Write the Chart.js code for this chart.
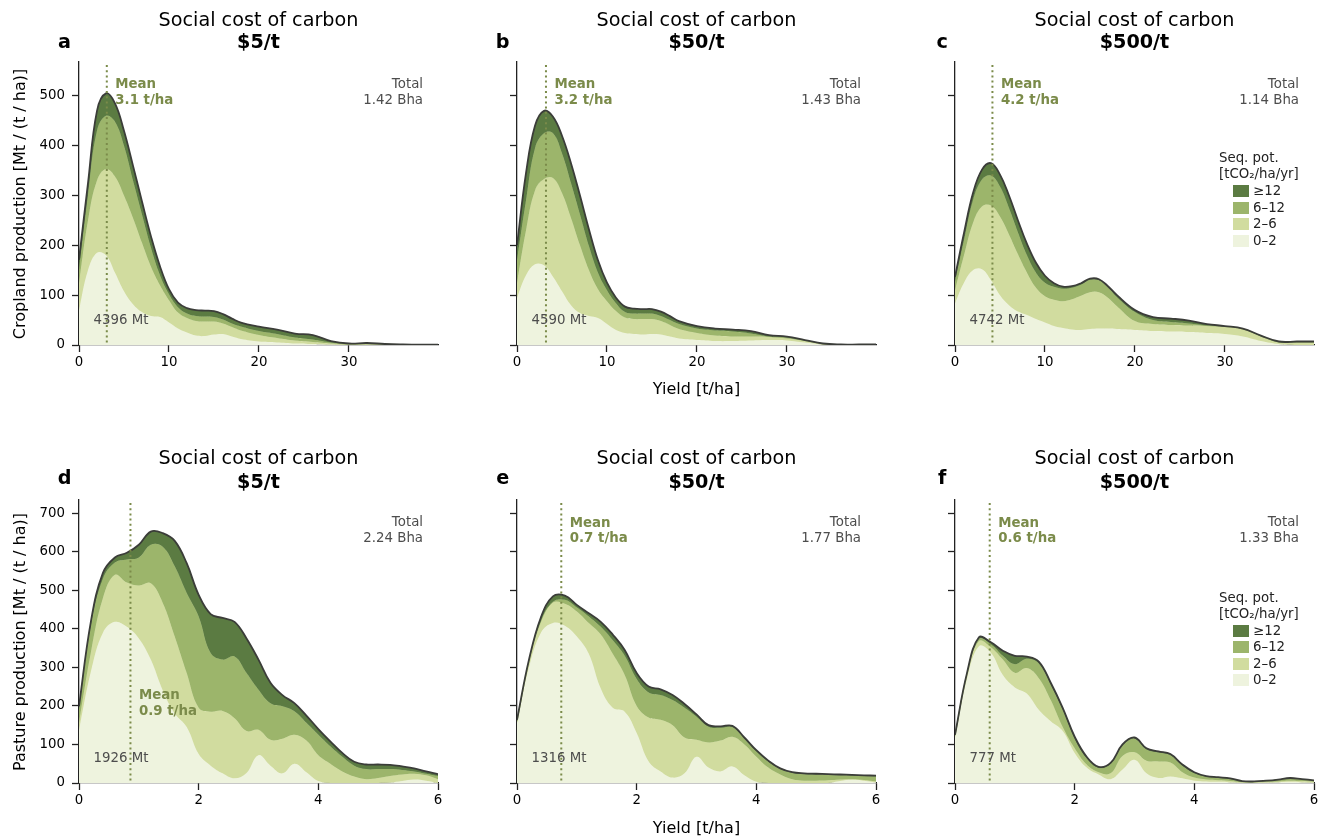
<!DOCTYPE html>
<html>
<head>
<meta charset="utf-8">
<script src="https://cdn.jsdelivr.net/npm/chart.js@4.4.1/dist/chart.umd.min.js"></script>
<style>
  html,body{margin:0;padding:0;background:#fff;}
  body{width:1325px;height:839px;overflow:hidden;position:relative;font-family:"DejaVu Sans",sans-serif;color:#000;}
  canvas{position:absolute;left:0;top:0;}
  .txt{position:absolute;white-space:nowrap;line-height:1;}
  .c{transform:translate(-50%,-50%);}
  .l{transform:translate(0,-50%);}
  .rot{transform:translate(-50%,-50%) rotate(-90deg);}
  .sw{position:absolute;width:16px;height:12px;}
</style>
</head>
<body>
<canvas id="pa" width="1325" height="839"></canvas>
<canvas id="pb" width="1325" height="839"></canvas>
<canvas id="pc" width="1325" height="839"></canvas>
<canvas id="pd" width="1325" height="839"></canvas>
<canvas id="pe" width="1325" height="839"></canvas>
<canvas id="pf" width="1325" height="839"></canvas>
<script>
// ---------------- DATA ----------------
// x grids (yield, t/ha)
const cropYield = [0,1,2,3,4,5,6,7,8,9,10,11,12,13,14,15,16,17,18,20,22,24,26,28,30,32,34,36,38,40];
const pastureYield = [0,0.2,0.4,0.6,0.8,1.0,1.2,1.4,1.6,1.8,2.0,2.2,2.4,2.6,2.8,3.0,3.2,3.4,3.6,3.8,4.0,4.2,4.4,4.6,4.8,5.0,5.2,5.4,5.6,5.8,6.0];

// Cumulative upper boundaries of each sequestration-potential class (Mt / (t/ha))
// Cropland, SCC $5/t
const cropA_0to2  = [70,150,185,180,145,108,82,66,58,56,45,33,25,19,18,21,22,17,12,7,5,3,2,1,0.5,0.5,0,0,0,0];
const cropA_to6   = [125,250,330,353,338,300,255,205,157,120,90,65,54,48,47,47,43,36,29,20,14,9,6,3,1,1.5,1,0.5,0.2,0.2];
const cropA_to12  = [150,300,430,460,448,400,330,262,195,140,102,76,63,58,57,56,51,43,37,28,22,15,11,5,2,3,1.5,0.8,0.3,0.3];
const cropA_total = [171,325,470,505,485,430,360,288,218,158,112,85,74,70,69,68,62,53,45,37,31,23,20,8,3,4,2,1,0.5,0.5];
// Cropland, SCC $50/t
const cropB_0to2  = [95,140,162,160,137,108,80,64,58,54,42,30,24,22,21,22,21,17,13,10,8,8,9,10,9,5,1,0,0,0];
const cropB_to6   = [125,230,310,333,335,305,255,200,150,112,88,68,55,52,52,52,48,40,32,24,19,17,17,16,13,8,2,0.5,0.5,0.5];
const cropB_to12  = [170,290,395,425,425,385,325,262,198,145,110,84,66,63,63,63,58,50,42,33,29,27,23,17,15,9,2.5,0.8,0.8,0.8];
const cropB_total = [200,345,440,470,458,420,365,300,232,170,125,95,77,73,72,72,67,58,48,38,33,31,28,20,17,10,3,1,1,1];
// Cropland, SCC $500/t
const cropC_0to2  = [84,125,150,152,130,100,80,67,60,52,45,38,34,31,30,32,33,33,32,30,28,27,26,24,22,17,8,2,0,0];
const cropC_to6   = [110,180,245,278,280,258,222,182,145,115,98,91,88,92,99,106,106,95,78,48,42,40,39,38,37,32,17,5,5,5];
const cropC_to12  = [127,210,290,332,340,318,275,226,180,145,125,117,113,115,121,131,130,116,96,66,50,46,43,39,37,32,18,6,6,6];
const cropC_total = [137,225,305,352,365,342,300,250,203,165,139,124,117,118,124,133,132,118,100,70,56,53,49,42,38,33,19,7,7,7];
// Pasture, SCC $5/t
const pastD_0to2  = [138,290,390,418,405,375,320,240,180,145,75,45,25,12,26,72,45,25,50,28,5,0,0,0,0,0,1,5,9,6,0];
const pastD_to6   = [156,340,480,540,520,512,518,467,380,285,195,185,187,168,135,138,112,115,125,110,72,50,30,17,10,13,18,22,24,20,10];
const pastD_to12  = [190,410,530,572,580,585,618,613,562,493,432,337,320,328,285,242,207,199,186,156,125,95,68,45,36,36,36,34,30,24,18];
const pastD_total = [199,420,545,585,597,618,652,648,628,570,488,438,428,418,375,320,260,228,207,175,140,108,78,55,48,48,47,43,38,30,23];
// Pasture, SCC $50/t
const pastE_0to2  = [156,300,390,415,408,380,335,245,195,185,130,56,30,14,25,68,40,30,43,20,3,0,0,0,0,0,0,5,10,6,2];
const pastE_to6   = [160,315,420,468,465,445,415,385,335,280,200,170,164,150,118,112,105,110,120,100,68,40,22,10,6,6,7,9,10,8,4];
const pastE_to12  = [160,315,420,470,475,455,432,405,370,330,270,235,228,215,195,172,146,143,145,115,82,55,36,26,23,22,21,20,19,18,17];
const pastE_total = [164,320,430,484,486,462,440,418,385,345,285,250,243,228,205,178,150,147,148,118,85,58,38,28,25,24,23,22,21,20,19];
// Pasture, SCC $500/t
const pastF_0to2  = [118,270,355,338,280,248,232,190,160,135,78,40,22,10,35,60,25,13,17,12,6,4,3,2,1,1,1,2,3,2,1];
const pastF_to6   = [122,280,368,352,320,286,298,272,215,145,90,48,28,25,70,80,58,56,53,28,14,9,7,5,2,2,3,4,6,5,3];
const pastF_to12  = [123,283,374,360,330,308,322,310,255,190,115,64,39,49,97,115,87,79,72,45,25,16,13,10,4,3,5,8,12,9,6];
const pastF_total = [125,285,378,365,343,330,328,315,260,195,120,68,42,52,100,118,90,82,75,48,28,18,15,12,5,4,6,9,13,10,7];

// Labels / annotations
const sccLabels = ['$5/t', '$50/t', '$500/t'];
const panelLetters = ['a','b','c','d','e','f'];
const cropMeans = [3.09, 3.22, 4.16];
const pastureMeans = [0.86, 0.74, 0.58];
const cropTotalsBha = ['1.42', '1.43', '1.14'];
const pastureTotalsBha = ['2.24', '1.77', '1.33'];
const cropProductionMt = [4396, 4590, 4742];
const pastureProductionMt = [1926, 1316, 777];
const cropYTicks = [0,100,200,300,400,500];
const pastureYTicks = [0,100,200,300,400,500,600,700];
const legendLabels = ['≥12', '6–12', '2–6', '0–2'];

// ---------------- STYLE ----------------
const LAYER_COLORS = ['#eef3de', '#d1dc9f', '#9cb56b', '#5b7b42']; // 0–2, 2–6, 6–12, ≥12
const OUTLINE = '#3b3d39';
const MEAN_COLOR = '#7b8b4a';
const FONT = '"DejaVu Sans", sans-serif';
const cols = [{l:79, r:438}, {l:517, r:876}, {l:955, r:1314}];
const rows = [{t:62, b:345}, {t:500, b:783}];

function makePanel(id, col, row, xs, bounds, cfg){
  const datasets = bounds.map((arr, i) => ({
    data: xs.map((x, j) => ({x: x, y: arr[j]})),
    backgroundColor: LAYER_COLORS[i],
    borderColor: i === 3 ? OUTLINE : LAYER_COLORS[i],
    borderWidth: i === 3 ? 1.8 : 0.8,
    fill: i === 0 ? 'origin' : '-1',
    pointRadius: 0,
    tension: 0.4,
    order: 4 - i
  }));
  const c = cols[col], r = rows[row];
  const tickFont = {family: FONT, size: 13.33};
  const annot = {
    id: 'annot' + id,
    afterDatasetsDraw(chart){
      const ctx = chart.ctx, ca = chart.chartArea;
      const mx = chart.scales.x.getPixelForValue(cfg.mean);
      ctx.save();
      ctx.strokeStyle = MEAN_COLOR; ctx.lineWidth = 2; ctx.setLineDash([2, 3.2]);
      ctx.beginPath(); ctx.moveTo(mx, ca.top + 3); ctx.lineTo(mx, ca.bottom); ctx.stroke();
      ctx.setLineDash([]);
      ctx.textBaseline = 'middle';
      ctx.font = 'bold 13.33px ' + FONT; ctx.fillStyle = MEAN_COLOR; ctx.textAlign = 'left';
      ctx.fillText('Mean', mx + 8.5, ca.top + cfg.meanDy);
      ctx.fillText(cfg.mean.toFixed(1) + ' t/ha', mx + 8.5, ca.top + cfg.meanDy + 15.5);
      ctx.font = '13.33px ' + FONT; ctx.fillStyle = '#4d4d4d'; ctx.textAlign = 'right';
      ctx.fillText('Total', ca.right - 15, ca.top + 23);
      ctx.fillText(cfg.total + ' Bha', ca.right - 15, ca.top + 38.5);
      ctx.textAlign = 'left';
      ctx.fillText(cfg.mt + ' Mt', ca.left + 14.5, ca.bottom - 24.5);
      ctx.restore();
    }
  };
  return new Chart(document.getElementById(id), {
    type: 'line',
    data: {datasets: datasets},
    plugins: [annot],
    options: {
      responsive: false, animation: false, events: [],
      layout: {autoPadding: false, padding: {left: c.l - 40, right: 1325 - c.r, top: r.t, bottom: 839 - r.b - 30}},
      plugins: {legend: {display: false}, tooltip: {enabled: false}, title: {display: false}},
      scales: {
        x: {
          type: 'linear', min: 0, max: cfg.xmax,
          afterFit(s){ s.height = 30; },
          ticks: {stepSize: cfg.xstep, includeBounds: false, padding: 3, color: '#000', font: tickFont, maxRotation: 0, autoSkip: false},
          grid: {display: true, drawOnChartArea: false, drawTicks: true, tickLength: 7, tickWidth: 1.3, tickColor: '#222'},
          border: {display: true, color: '#222', width: 1.3}
        },
        y: {
          type: 'linear', min: 0, max: cfg.ymax,
          afterFit(s){ s.width = 40; },
          afterBuildTicks(s){ s.ticks = cfg.yticks.map(v => ({value: v})); },
          ticks: {stepSize: 100, includeBounds: false, padding: 7, color: '#000', font: tickFont,
                  callback: (v) => cfg.showY ? String(v) : ''},
          grid: {display: true, drawOnChartArea: false, drawTicks: true, tickLength: 7, tickWidth: 1.3, tickColor: '#222'},
          border: {display: true, color: '#222', width: 1.3}
        }
      }
    }
  });
}

const cropSets = [
  [cropA_0to2, cropA_to6, cropA_to12, cropA_total],
  [cropB_0to2, cropB_to6, cropB_to12, cropB_total],
  [cropC_0to2, cropC_to6, cropC_to12, cropC_total]
];
const pastSets = [
  [pastD_0to2, pastD_to6, pastD_to12, pastD_total],
  [pastE_0to2, pastE_to6, pastE_to12, pastE_total],
  [pastF_0to2, pastF_to6, pastF_to12, pastF_total]
];
const cropIds = ['pa','pb','pc'], pastIds = ['pd','pe','pf'];
for (let i = 0; i < 3; i++){
  makePanel(cropIds[i], i, 0, cropYield, cropSets[i], {
    xmax: 39.9, xstep: 10, ymax: 568, yticks: cropYTicks, showY: i === 0,
    mean: cropMeans[i], meanDy: 23, total: cropTotalsBha[i], mt: cropProductionMt[i]
  });
  makePanel(pastIds[i], i, 1, pastureYield, pastSets[i], {
    xmax: 6, xstep: 2, ymax: 734, yticks: pastureYTicks, showY: i === 0,
    mean: pastureMeans[i], meanDy: i === 0 ? 196 : 23.5, total: pastureTotalsBha[i], mt: pastureProductionMt[i]
  });
}

// ---------------- TEXT (titles, letters, axis labels, legends) ----------------
function addText(txt, x, y, cls, css){
  const d = document.createElement('div');
  d.className = 'txt ' + cls;
  d.textContent = txt;
  d.style.left = x + 'px'; d.style.top = y + 'px';
  Object.assign(d.style, css || {});
  document.body.appendChild(d);
  return d;
}
const titleY = [[20, 42.3], [458.3, 481.7]];
const letterX = [64.5, 502.7, 942.2];
const letterY = [41.7, 478.3];
for (let row = 0; row < 2; row++){
  for (let col = 0; col < 3; col++){
    const cx = (cols[col].l + cols[col].r) / 2;
    addText('Social cost of carbon', cx, titleY[row][0], 'c', {fontSize: '19.2px'});
    addText(sccLabels[col], cx, titleY[row][1], 'c', {fontSize: '19.2px', fontWeight: 'bold'});
    addText(panelLetters[row * 3 + col], letterX[col], letterY[row], 'c', {fontSize: '19.2px', fontWeight: 'bold'});
  }
}
addText('Yield [t/ha]', 696.5, 388.5, 'c', {fontSize: '16px'});
addText('Yield [t/ha]', 696.5, 827.7, 'c', {fontSize: '16px'});
addText('Cropland production [Mt / (t / ha)]', 19.5, 203.5, 'rot', {fontSize: '16px'});
addText('Pasture production [Mt / (t / ha)]', 19.5, 641.5, 'rot', {fontSize: '16px'});

function addLegend(top){
  addText('Seq. pot.', 1219, top, 'l', {fontSize: '13.33px', color: '#222'});
  addText('[tCO₂/ha/yr]', 1219, top + 16, 'l', {fontSize: '13.33px', color: '#222'});
  legendLabels.forEach((lab, k) => {
    const cy = top + 33 + k * 16.6;
    const sw = document.createElement('div');
    sw.className = 'sw';
    sw.style.left = '1233px'; sw.style.top = (cy - 6) + 'px';
    sw.style.background = LAYER_COLORS[3 - k];
    document.body.appendChild(sw);
    addText(lab, 1253, cy, 'l', {fontSize: '13.33px', color: '#222'});
  });
}
addLegend(158);
addLegend(597.5);
</script>
</body>
</html>
